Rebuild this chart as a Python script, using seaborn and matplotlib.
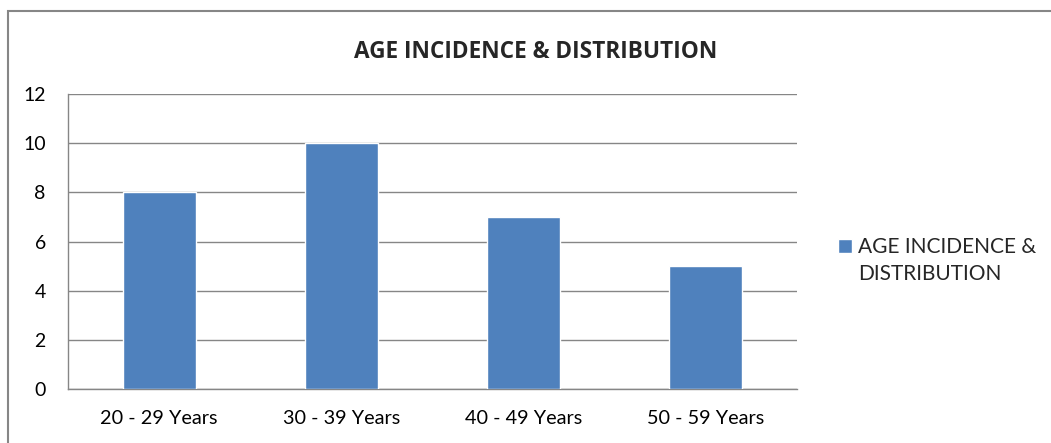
import matplotlib
matplotlib.use('Agg')
import matplotlib.pyplot as plt
import seaborn as sns
import pandas as pd
from matplotlib.patches import Rectangle

# chart data
age_groups = ['20 - 29 Years', '30 - 39 Years', '40 - 49 Years', '50 - 59 Years']
cases = [8, 10, 7, 5]
series_name = 'AGE INCIDENCE &\nDISTRIBUTION'
y_ticks = [0, 2, 4, 6, 8, 10, 12]

data = pd.DataFrame({'Age Group': age_groups, 'Cases': cases})

sns.set_theme(style='white')
plt.rcParams['font.family'] = ['Lato', 'DejaVu Sans']

fig = plt.figure(figsize=(10.51, 4.43), dpi=100)
ax = fig.add_axes([0.0647, 0.1219, 0.6936, 0.6659])

grid_col = '#868686'
sns.barplot(x='Age Group', y='Cases', data=data, color='#4F81BD',
            width=0.4, saturation=1, ax=ax, label=series_name, zorder=3)

ax.set_xlim(-0.5, 3.5)
ax.set_ylim(0, 12)
ax.set_yticks(y_ticks)
ax.yaxis.grid(True, color=grid_col, linewidth=1, zorder=0)
ax.set_axisbelow(True)
ax.set_xlabel('')
ax.set_ylabel('')

# category boundary ticks on x axis
ax.set_xticks([-0.5, 0.5, 1.5, 2.5, 3.5], minor=True)
ax.tick_params(axis='x', which='major', length=0, pad=15, labelsize=14.3, colors='black')
ax.tick_params(axis='x', which='minor', length=5, width=1, color=grid_col, direction='out')
ax.tick_params(axis='y', length=5, width=1, color=grid_col, direction='out',
               pad=11, labelsize=14, labelcolor='black')

for side in ['top', 'right']:
    ax.spines[side].set_visible(False)
for side in ['left', 'bottom']:
    ax.spines[side].set_color(grid_col)
    ax.spines[side].set_linewidth(1)

fig.text(0.51, 0.882, 'AGE INCIDENCE & DISTRIBUTION', ha='center', va='center',
         fontsize=16.3, fontweight='bold', family=['Open Sans', 'DejaVu Sans'])

leg = ax.legend(loc='upper left', bbox_to_anchor=(1.045, 0.545), frameon=False,
                fontsize=15, handlelength=0.65, handleheight=0.65,
                handletextpad=0.3, borderaxespad=0, labelspacing=0.3)
leg.get_texts()[0].set_linespacing(1.45)
# put the swatch level with the first line of the label
sw = leg.legend_handles[0]
sw.set_y(sw.get_y() + 10.5)

# outer chart border (right and bottom edges are cut off in the source)
fig.patches.append(Rectangle((8 / 1051, -0.05), 1.2, 1 - 11 / 443 + 0.05,
                             transform=fig.transFigure, fill=False,
                             edgecolor=grid_col, linewidth=1.5))

fig.savefig('out.png', dpi=100, facecolor='white')
